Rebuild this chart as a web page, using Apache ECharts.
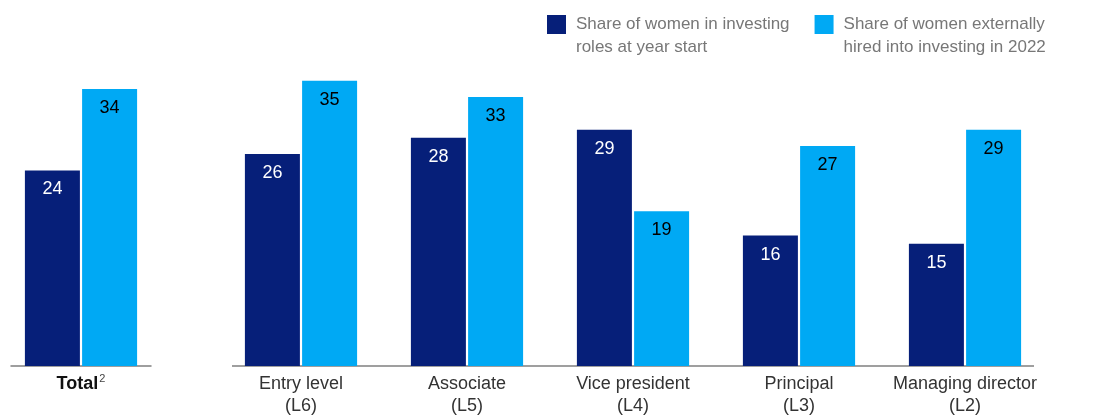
<!DOCTYPE html>
<html>
<head>
<meta charset="utf-8">
<script src="https://cdn.jsdelivr.net/npm/echarts@6/dist/echarts.min.js"></script>
<style>
  html, body { margin: 0; padding: 0; background: #ffffff; }
  #chart { width: 1109px; height: 417px; }
</style>
</head>
<body>
<div id="chart"></div>
<script>
// Categories and values
const totalCategory = ['Total'];
const levelCategories = ['Entry level\n(L6)', 'Associate\n(L5)', 'Vice president\n(L4)', 'Principal\n(L3)', 'Managing director\n(L2)'];
const seriesNames = ['Share of women in investing\nroles at year start', 'Share of women externally\nhired into investing in 2022'];
const totalYearStart = [24];
const totalHired = [34];
const levelYearStart = [26, 28, 29, 16, 15];
const levelHired = [35, 33, 19, 27, 29];

const DARK = '#061f79';
const LIGHT = '#00a9f4';
const FONT = '"Liberation Sans", Arial, Helvetica, sans-serif';
const BAR_W = 55;
const AXIS_EXTRA = 13;

const chart = echarts.init(document.getElementById('chart'), null, { renderer: 'canvas' });

function barSeries(name, data, color, labelColor, axisIdx) {
  return {
    type: 'bar',
    name: name,
    data: data,
    xAxisIndex: axisIdx,
    yAxisIndex: axisIdx,
    barWidth: BAR_W,
    barGap: '4%',
    itemStyle: { color: color },
    label: {
      show: true,
      position: 'insideTop',
      distance: 10,
      color: labelColor,
      fontFamily: FONT,
      fontSize: 18
    },
    emphasis: { disabled: true },
    animation: false
  };
}

const axisLabelBase = {
  fontFamily: FONT,
  fontSize: 18,
  lineHeight: 22,
  color: '#333333',
  margin: 7,
  interval: 0
};

chart.setOption({
  backgroundColor: '#ffffff',
  animation: false,
  legend: {
    data: seriesNames,
    left: 547,
    top: -10,
    padding: 0,
    itemWidth: 19,
    itemHeight: 19,
    itemGap: 25,
    icon: 'rect',
    selectedMode: false,
    // a blank leading line keeps the swatch level with the first text line
    formatter: function (name) { return ' \n' + name; },
    textStyle: {
      fontFamily: FONT,
      fontSize: 17,
      lineHeight: 23,
      color: '#777777',
      padding: [0, 0, 0, 5]
    }
  },
  grid: [
    { left: 11, width: 140, top: 40, bottom: 51 },
    { left: 218, width: 830, top: 40, bottom: 51 }
  ],
  xAxis: [
    {
      type: 'category',
      gridIndex: 0,
      data: totalCategory,
      axisTick: { show: false },
      axisLine: { lineStyle: { color: '#7f7f7f', width: 1.5 } },
      axisLabel: Object.assign({}, axisLabelBase, {
        formatter: function (v) { return '{b|' + v + '}{s|2}'; },
        rich: {
          b: { fontFamily: FONT, fontSize: 18, fontWeight: 'bold', color: '#111111', lineHeight: 22 },
          s: { fontFamily: FONT, fontSize: 11, color: '#444444', lineHeight: 22, verticalAlign: 'top', padding: [0, 0, 8, 1] }
        }
      })
    },
    {
      type: 'category',
      gridIndex: 1,
      data: levelCategories,
      axisTick: { show: false },
      axisLine: { show: false },
      axisLabel: axisLabelBase
    }
  ],
  yAxis: [
    { type: 'value', gridIndex: 0, min: 0, max: 40, show: false },
    { type: 'value', gridIndex: 1, min: 0, max: 40, show: false }
  ],
  series: [
    barSeries(seriesNames[0], totalYearStart, DARK, '#ffffff', 0),
    barSeries(seriesNames[1], totalHired, LIGHT, '#000000', 0),
    barSeries(seriesNames[0], levelYearStart, DARK, '#ffffff', 1),
    barSeries(seriesNames[1], levelHired, LIGHT, '#000000', 1)
  ]
});

// Baseline for the level group, spanning from the first to the last bar pair
const first = chart.convertToPixel({ xAxisIndex: 1, yAxisIndex: 1 }, [0, 0]);
const last = chart.convertToPixel({ xAxisIndex: 1, yAxisIndex: 1 }, [levelCategories.length - 1, 0]);
const halfPair = BAR_W + 1 + AXIS_EXTRA;
chart.setOption({
  graphic: [{
    type: 'line',
    silent: true,
    shape: { x1: first[0] - halfPair, y1: first[1], x2: last[0] + halfPair, y2: last[1] },
    style: { stroke: '#7f7f7f', lineWidth: 1.5 }
  }]
});
</script>
</body>
</html>
